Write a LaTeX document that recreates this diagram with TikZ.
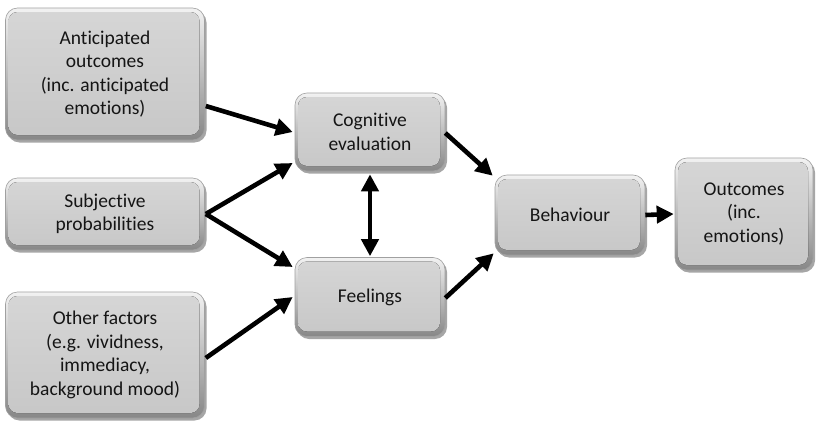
\documentclass[tikz,border=0pt]{standalone}
\usepackage{fontspec}
\setmainfont{Carlito}[Ligatures=NoCommon]
\usetikzlibrary{arrows.meta,shadows}
\definecolor{bevtop}{HTML}{F2F2F2}
\definecolor{bevbot}{HTML}{878787}
\definecolor{facetop}{HTML}{D6D6D6}
\definecolor{facebot}{HTML}{C7C7C7}
\definecolor{boxline}{HTML}{A0A0A0}
\definecolor{txt}{HTML}{151515}
\tikzset{
  box/.style={rectangle, rounded corners=12pt, draw=boxline, line width=0.6pt,
    top color=bevtop, bottom color=bevbot,
    drop shadow={shadow xshift=2pt, shadow yshift=-2.5pt, opacity=0.35, fill=black},
    path picture={
      \fill[rounded corners=9pt, top color=facetop, bottom color=facebot]
        ([shift={(3pt,-4pt)}]path picture bounding box.north west) rectangle
        ([shift={(-5pt,5pt)}]path picture bounding box.south east);
    },
    align=center, text=txt, inner sep=0pt,
    font=\fontsize{19.5}{23.5}\selectfont},
  link/.style={line width=4.6pt, -{Triangle[length=17pt,width=17pt]}},
  duallink/.style={line width=4.6pt, {Triangle[length=17pt,width=17pt]}-{Triangle[length=17pt,width=17pt]}}
}
\begin{document}
\begin{tikzpicture}[x=1pt,y=-1pt]
\useasboundingbox (0,0) rectangle (817,423);
% input boxes
\node[box, minimum width=199pt, minimum height=132pt] (ant) at (105,74)
  {Anticipated\\outcomes\\(inc. anticipated\\emotions)};
\node[box, minimum width=199pt, minimum height=72pt] (subj) at (105,214)
  {Subjective\\probabilities};
\node[box, minimum width=199pt, minimum height=126pt] (other) at (105,355)
  {Other factors\\(e.g. vividness,\\immediacy,\\background mood)};
% evaluation boxes
\node[box, minimum width=150pt, minimum height=78pt] (cog) at (370,132)
  {Cognitive\\evaluation};
\node[box, minimum width=150pt, minimum height=79pt] (feel) at (370,297)
  {Feelings};
% behaviour and its outcomes
\node[box, minimum width=150pt, minimum height=80pt] (beh) at (570,215)
  {Behaviour};
\node[box, minimum width=138pt, minimum height=112pt] (out) at (744,214)
  {Outcomes\\(inc.\\emotions)};
% connectors (yshift is in page direction: negative moves down)
\draw[link] ([xshift=1pt,yshift=-32pt]ant.east) -- ([xshift=-2pt]cog.west);
\draw[link] ([xshift=1pt]subj.east) -- ([xshift=-2pt,yshift=-31pt]cog.west);
\draw[link] ([xshift=1pt]subj.east) -- ([xshift=-2pt,yshift=30pt]feel.west);
\draw[link] ([xshift=1pt,yshift=-3pt]other.east) -- ([xshift=-2pt]feel.west);
\draw[duallink] ([yshift=-3pt]cog.south) -- ([yshift=1pt]feel.north);
\draw[link] ([yshift=-1pt]cog.east) -- ([xshift=-2pt,yshift=-1pt]beh.north west);
\draw[link] ([yshift=-1pt]feel.east) -- ([xshift=-1pt,yshift=2pt]beh.south west);
\draw[link] (beh.east) -- ([xshift=-1pt]out.west);
\end{tikzpicture}
\end{document}
